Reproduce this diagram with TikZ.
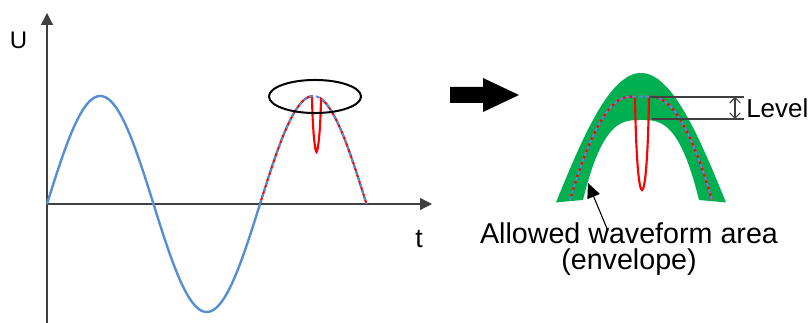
\documentclass[tikz,border=0pt]{standalone}
\usepackage{fontspec}
\setmainfont{Liberation Sans}
\usetikzlibrary{arrows.meta}
\definecolor{wave}{RGB}{85,142,213}
\definecolor{envgreen}{RGB}{0,176,80}
\definecolor{axisgray}{RGB}{64,64,64}
\begin{document}
\begin{tikzpicture}[x=0.75pt,y=-0.75pt,
  declare function={
    lw(\x)=204-108*sin((\x-47)/106.5*180);
    mid(\x)=96.7+0.0287*(max(abs(\x-641)-11,0))^2;
    outr(\x)=73+141.8*(1-cos(\x-641));
    innr(\x)=120+80*(abs(\x-641)/58)^2.95;
  },
  axisline/.style={axisgray,line width=1pt,-{Triangle[length=9pt,width=9pt]}},
  sinewave/.style={wave,line width=1.8pt},
  glitch/.style={red,line width=1.6pt},
  wavedash/.style={wave,line width=1.5pt,dash pattern=on 3pt off 2pt},
  levelline/.style={axisgray,line width=0.8pt},
  levelarrow/.style={axisgray,line width=0.8pt,{Straight Barb[length=4pt,width=8pt]}-{Straight Barb[length=4pt,width=8pt]}},
  pointer/.style={black,line width=0.8pt,-{Triangle[length=11pt,width=10pt]}}]
\tikzstyle{every node}+=[inner sep=0pt]
\useasboundingbox (0,0) rectangle (808,323);
\coordinate (ybase) at (47,323);
\coordinate (ytip) at (47,13);
\coordinate (orig) at (47,204);
\coordinate (xtip) at (432,204);
\draw [axisline] (ybase) -- (ytip);
\draw [axisline] (orig) -- (xtip);
\node [anchor=base,font=\fontsize{18}{20}\selectfont] (ulab) at (18.5,49) {U};
\node [anchor=base,font=\fontsize{20}{22}\selectfont] (tlab) at (419,248) {t};
\draw [sinewave] plot[domain=47:260,samples=120] (\x,{lw(\x)});
\draw [glitch] plot[domain=260:312,samples=60] (\x,{lw(\x)})
  .. controls (312.5,130) and (315,152) .. (316.5,152)
  .. controls (318,152) and (320.5,130) .. (321,{lw(321)})
  -- plot[domain=321:366.5,samples=50] (\x,{lw(\x)});
\draw [wavedash] plot[domain=260:366.5,samples=80] (\x,{lw(\x)});
\draw [black,line width=1.5pt] (315,96.5) ellipse (34.5pt and 12.4pt);
\fill [black] (450,87) -- (483,87) -- (483,78) -- (519,95) -- (483,112) -- (483,103) -- (450,103) -- cycle;
\fill [envgreen] plot[domain=556:726,samples=90] (\x,{outr(\x)})
  -- plot[domain=699:583,samples=80] (\x,{innr(\x)}) -- cycle;
\draw [glitch] plot[domain=570:635,samples=60] (\x,{mid(\x)})
  .. controls (636,160) and (639,190) .. (642,190)
  .. controls (645,190) and (648,160) .. (649,{mid(649)})
  -- plot[domain=649:712,samples=60] (\x,{mid(\x)});
\draw [wavedash] plot[domain=570:712,samples=100] (\x,{mid(\x)});
\coordinate (lvtopl) at (650,97);
\coordinate (lvtopr) at (744,97);
\coordinate (lvbotl) at (652,119);
\coordinate (lvbotr) at (744,119);
\coordinate (lvup) at (735,97);
\coordinate (lvdn) at (735,119);
\draw [levelline] (lvtopl) -- (lvtopr);
\draw [levelline] (lvbotl) -- (lvbotr);
\draw [levelarrow] (lvup) -- (lvdn);
\node [anchor=west,font=\fontsize{19.5}{22}\selectfont] (lvlab) at (746,108.5) {Level};
\node [anchor=base,font=\fontsize{21.5}{24}\selectfont] (envnote) at (629,244) {Allowed waveform area};
\node [anchor=base,font=\fontsize{21.5}{24}\selectfont] (envnotb) at (629,270) {(envelope)};
\coordinate (ptrtail) at (608,231);
\coordinate (ptrtip) at (588,183);
\draw [pointer] (ptrtail) -- (ptrtip);
\end{tikzpicture}
\end{document}
